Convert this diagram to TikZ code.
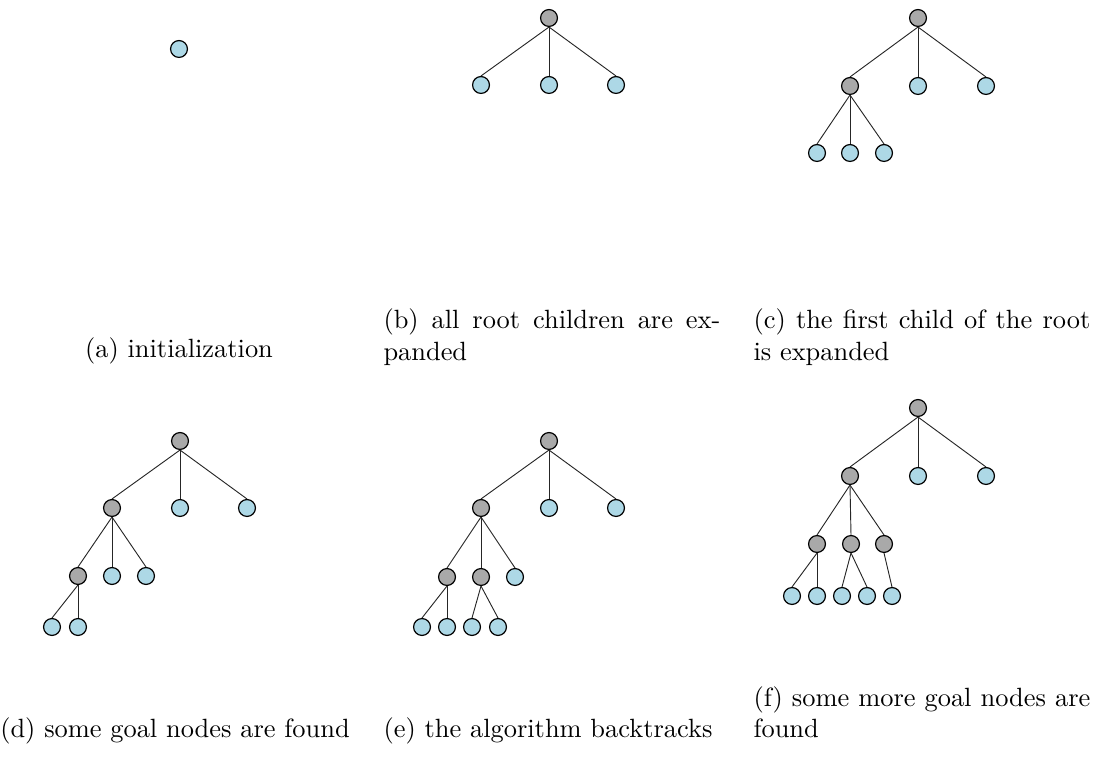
\documentclass[tikz,border=0pt]{standalone}
\usepackage{tikz}
\usepackage{amsmath, amssymb}
\tikzset{every picture/.style={line width=0.4pt}}
\definecolor{frontblue}{RGB}{173,216,230}
\definecolor{expgray}{RGB}{169,169,169}
\tikzset{
  vtx/.style={circle, draw=black, line width=0.45pt, minimum size=6.4pt, inner sep=0pt},
  frontier/.style={vtx, fill=frontblue},
  expanded/.style={vtx, fill=expgray},
  edge/.style={draw=black!85, line width=0.35pt},
  caption/.style={inner sep=0pt, text width=127.6pt, align=justify},
}

\begin{document}
\begin{tikzpicture}[x=0.3788pt,y=0.3788pt,yscale=-1,xscale=1]
\useasboundingbox (0,0) rectangle (1094,760);

%Panel (a): initialization
\node [frontier] (a0) at (179,49) {};

%Panel (b): all root children are expanded
\node [expanded] (b0) at (549,18) {};
\node [frontier] (b1) at (481,85) {};
\node [frontier] (b2) at (549,85) {};
\node [frontier] (b3) at (616,85) {};
\draw [edge] (b0.south) -- (b1.north) ;
\draw [edge] (b0.south) -- (b2.north) ;
\draw [edge] (b0.south) -- (b3.north) ;

%Panel (c): first child of the root expanded
\node [expanded] (c0) at (918,18) {};
\node [expanded] (c1) at (850,86) {};
\node [frontier] (c2) at (918,86) {};
\node [frontier] (c3) at (986,86) {};
\node [frontier] (c11) at (817,153) {};
\node [frontier] (c12) at (850,153) {};
\node [frontier] (c13) at (884,153) {};
\draw [edge] (c0.south) -- (c1.north) ;
\draw [edge] (c0.south) -- (c2.north) ;
\draw [edge] (c0.south) -- (c3.north) ;
\draw [edge] (c1.south) -- (c11.north) ;
\draw [edge] (c1.south) -- (c12.north) ;
\draw [edge] (c1.south) -- (c13.north) ;

%Panel (d): some goal nodes are found
\node [expanded] (d0) at (180,441) {};
\node [expanded] (d1) at (112,508) {};
\node [frontier] (d2) at (180,508) {};
\node [frontier] (d3) at (247,508) {};
\node [expanded] (d11) at (78,576) {};
\node [frontier] (d12) at (112,576) {};
\node [frontier] (d13) at (146,576) {};
\node [frontier] (d111) at (52,627) {};
\node [frontier] (d112) at (78,627) {};
\draw [edge] (d0.south) -- (d1.north) ;
\draw [edge] (d0.south) -- (d2.north) ;
\draw [edge] (d0.south) -- (d3.north) ;
\draw [edge] (d1.south) -- (d11.north) ;
\draw [edge] (d1.south) -- (d12.north) ;
\draw [edge] (d1.south) -- (d13.north) ;
\draw [edge] (d11.south) -- (d111.north) ;
\draw [edge] (d11.south) -- (d112.north) ;

%Panel (e): the algorithm backtracks
\node [expanded] (e0) at (549,441) {};
\node [expanded] (e1) at (481,508) {};
\node [frontier] (e2) at (549,508) {};
\node [frontier] (e3) at (616,508) {};
\node [expanded] (e11) at (447,577) {};
\node [expanded] (e12) at (481,577) {};
\node [frontier] (e13) at (515,577) {};
\node [frontier] (e111) at (422,627) {};
\node [frontier] (e112) at (447,627) {};
\node [frontier] (e121) at (472,627) {};
\node [frontier] (e122) at (498,627) {};
\draw [edge] (e0.south) -- (e1.north) ;
\draw [edge] (e0.south) -- (e2.north) ;
\draw [edge] (e0.south) -- (e3.north) ;
\draw [edge] (e1.south) -- (e11.north) ;
\draw [edge] (e1.south) -- (e12.north) ;
\draw [edge] (e1.south) -- (e13.north) ;
\draw [edge] (e11.south) -- (e111.north) ;
\draw [edge] (e11.south) -- (e112.north) ;
\draw [edge] (e12.south) -- (e121.north) ;
\draw [edge] (e12.south) -- (e122.north) ;

%Panel (f): some more goal nodes are found
\node [expanded] (f0) at (918,408) {};
\node [expanded] (f1) at (850,476) {};
\node [frontier] (f2) at (918,476) {};
\node [frontier] (f3) at (986,476) {};
\node [expanded] (f11) at (817,544) {};
\node [expanded] (f12) at (851,544) {};
\node [expanded] (f13) at (884,544) {};
\node [frontier] (f111) at (792,596) {};
\node [frontier] (f112) at (817,596) {};
\node [frontier] (f121) at (842,596) {};
\node [frontier] (f122) at (867,596) {};
\node [frontier] (f131) at (892,596) {};
\draw [edge] (f0.south) -- (f1.north) ;
\draw [edge] (f0.south) -- (f2.north) ;
\draw [edge] (f0.south) -- (f3.north) ;
\draw [edge] (f1.south) -- (f11.north) ;
\draw [edge] (f1.south) -- (f12.north) ;
\draw [edge] (f1.south) -- (f13.north) ;
\draw [edge] (f11.south) -- (f111.north) ;
\draw [edge] (f11.south) -- (f112.north) ;
\draw [edge] (f12.south) -- (f121.north) ;
\draw [edge] (f12.south) -- (f122.north) ;
\draw [edge] (f13.south) -- (f131.north) ;

% Text Node
\node (capa) [anchor=base, inner sep=0pt] at (179,358) {(a) initialization};
% Text Node
\node (capb) [caption, anchor=base west] at (383,329) {(b) all root children are ex-\linebreak panded};
% Text Node
\node (capc) [caption, anchor=base west] at (753,329) {(c) the first child of the root\linebreak is expanded};
% Text Node
\node (capd) [anchor=base, inner sep=0pt] at (175,737) {(d) some goal nodes are found};
% Text Node
\node (cape) [anchor=base, inner sep=0pt] at (548,737) {(e) the algorithm backtracks};
% Text Node
\node (capf) [caption, anchor=base west] at (753,706) {(f) some more goal nodes are\linebreak found};

\end{tikzpicture}
\end{document}
